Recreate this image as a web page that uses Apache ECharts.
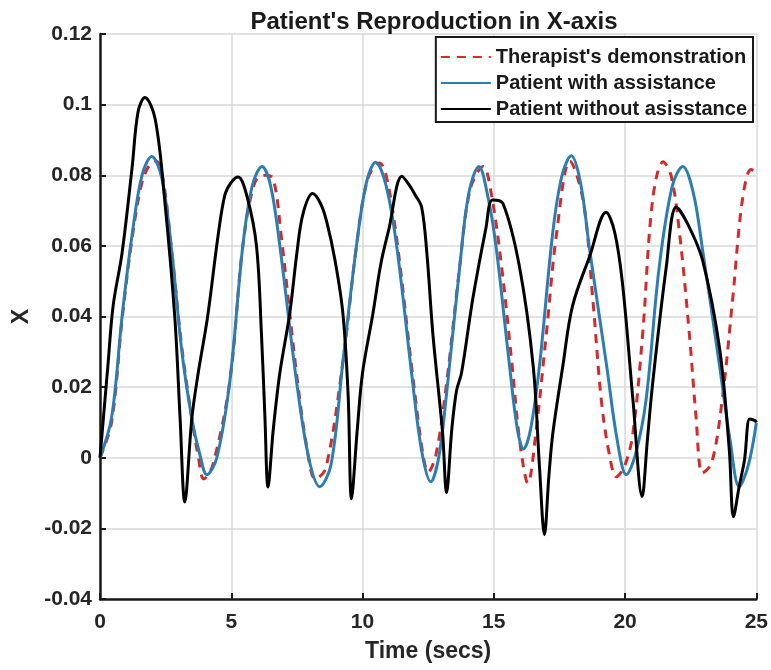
<!DOCTYPE html>
<html>
<head>
<meta charset="utf-8">
<script src="https://cdn.jsdelivr.net/npm/echarts@6/dist/echarts.min.js"></script>
<style>html,body{margin:0;padding:0;background:#fff}#c{width:771px;height:670px}</style>
</head>
<body>
<div id="c"></div>
<script>
var seriesNames = ["Therapist's demonstration", "Patient with assistance", "Patient without asisstance"];
var xTickLabels = ['0','5','10','15','20','25'];
var yTickLabels = ['-0.04','-0.02','0','0.02','0.04','0.06','0.08','0.1','0.12'];

var tRed = [0,0.44,0.84,1.22,1.6,1.9,2.15,2.4,2.74,3.12,3.5,3.75,3.95,4.3,4.95,5.44,5.9,6.3,6.6,6.9,7.5,7.9,8.2,8.6,9.25,9.77,10.2,10.65,10.9,11.3,11.9,12.3,12.5,12.8,13.2,13.7,14.1,14.6,14.9,15.3,15.7,16.0,16.3,16.6,17.0,17.4,17.9,18.4,18.77,19.1,19.4,19.67,20.0,20.3,20.67,21.05,21.45,21.75,22.07,22.45,22.7,22.95,23.3,23.7,24.1,24.47,24.8,25];
var vRed = [0,0.010,0.039,0.062,0.078,0.083,0.084,0.079,0.058,0.031,0.011,0.000,-0.006,-0.002,0.022,0.060,0.078,0.080,0.079,0.063,0.023,0.002,-0.006,-0.003,0.027,0.060,0.079,0.0835,0.080,0.062,0.024,0.001,-0.004,0.001,0.021,0.054,0.076,0.0825,0.075,0.054,0.026,0.004,-0.0072,0.007,0.035,0.064,0.084,0.073,0.045,0.016,0.001,-0.0054,-0.002,0.007,0.035,0.073,0.0838,0.080,0.064,0.035,0.012,-0.0043,-0.0015,0.0164,0.045,0.073,0.0816,0.081];

var tBlue = [0,0.44,0.84,1.22,1.6,1.97,2.36,2.74,3.12,3.5,3.8,4.07,4.45,4.95,5.44,5.8,6.17,6.5,6.85,7.48,7.95,8.37,8.8,9.25,9.77,10.15,10.5,10.9,11.3,11.9,12.25,12.6,12.9,13.2,13.7,14.05,14.43,14.8,15.1,15.6,15.9,16.13,16.4,16.74,17.25,17.6,17.95,18.3,18.65,19.3,19.7,20.05,20.4,20.8,21.3,21.8,22.2,22.6,22.95,23.6,24.0,24.35,24.7,25];
var vBlue = [0,0.0113,0.040,0.063,0.080,0.0853,0.079,0.058,0.030,0.011,0.001,-0.0048,0.0,0.022,0.060,0.077,0.0825,0.077,0.060,0.022,0.000,-0.0082,-0.002,0.027,0.060,0.078,0.0837,0.077,0.060,0.022,0.002,-0.0068,0.0,0.018,0.054,0.075,0.0825,0.073,0.059,0.026,0.008,0.0025,0.008,0.026,0.064,0.080,0.0855,0.078,0.059,0.026,0.005,-0.0048,0.001,0.0164,0.054,0.077,0.0825,0.075,0.059,0.026,0.005,-0.0082,-0.002,0.0099];

var tBlack = [0,0.3,0.5,0.84,1.22,1.45,1.71,2.1,2.47,2.85,3.05,3.23,3.5,3.73,4.1,4.5,4.76,5.0,5.26,5.6,5.96,6.15,6.28,6.4,6.6,6.85,7.23,7.5,7.73,8.1,8.4,8.63,8.95,9.25,9.45,9.58,9.8,10.0,10.4,10.7,11.0,11.5,11.8,12.0,12.25,12.45,12.68,13.05,13.2,13.4,13.58,13.77,14.2,14.7,14.95,15.35,15.98,16.5,16.74,16.93,17.1,17.25,17.63,18.0,18.65,19.28,19.6,19.9,20.3,20.65,20.85,21.05,21.57,21.95,22.4,22.95,23.6,23.97,24.13,24.35,24.55,24.75,24.95,25];
var vBlack = [0,0.026,0.043,0.058,0.082,0.098,0.102,0.096,0.0725,0.0397,0.0113,-0.0125,0.0113,0.0235,0.040,0.063,0.0745,0.078,0.0795,0.074,0.060,0.035,0.012,-0.0083,0.008,0.024,0.041,0.058,0.069,0.0748,0.072,0.067,0.056,0.041,0.018,-0.0116,0.008,0.024,0.041,0.055,0.0646,0.0797,0.077,0.0745,0.071,0.058,0.035,0.007,-0.0099,0.008,0.019,0.024,0.045,0.065,0.073,0.072,0.054,0.026,-0.0025,-0.0218,-0.005,0.007,0.026,0.043,0.057,0.0695,0.064,0.0495,0.0164,-0.011,0.005,0.021,0.054,0.071,0.066,0.056,0.031,0.0023,-0.0167,-0.008,-0.0006,0.011,0.0105,0.010];

function pairs(t, v){ return t.map(function(x,i){ return [x, v[i]]; }); }

var font = 'Liberation Sans, Arial, sans-serif';
var txt = '#262626';
var chart = echarts.init(document.getElementById('c'), null, {renderer:'canvas'});
chart.setOption({
  animation:false,
  backgroundColor:'#fff',
  title:{text:"Patient's Reproduction in X-axis", left:429, top:5, textAlign:'center',
    textStyle:{fontFamily:font, fontWeight:'bold', fontSize:24, color:'#1a1a1a'}},
  grid:{left:100, right:14, top:34, bottom:71, containLabel:false},
  legend:{
    orient:'vertical', right:18, top:37, itemWidth:50, itemHeight:14, itemGap:6,
    padding:[10,6,3,4], borderColor:'#1a1a1a', borderWidth:2, backgroundColor:'#fff',
    itemStyle:{opacity:0},
    textStyle:{fontFamily:font, fontWeight:'bold', fontSize:20, lineHeight:20, color:'#1a1a1a'},
    data:seriesNames
  },
  xAxis:{type:'value', min:0, max:25, interval:5,
    name:'Time (secs)', nameLocation:'middle', nameGap:41,
    nameTextStyle:{fontFamily:font, fontWeight:'bold', fontSize:23, color:txt},
    axisLine:{show:true, onZero:false, lineStyle:{color:'#1a1a1a', width:2.5}},
    axisTick:{show:true, inside:true, length:6, lineStyle:{color:'#1a1a1a', width:2}},
    axisLabel:{fontFamily:font, fontWeight:'bold', fontSize:21, color:txt, margin:13,
      formatter:function(v,i){ return xTickLabels[i]; }},
    splitLine:{show:true, lineStyle:{color:'#d8d8d8', width:1.5}}
  },
  yAxis:{type:'value', min:-0.04, max:0.12, interval:0.02,
    name:'X', nameLocation:'middle', nameGap:66, nameRotate:90,
    nameTextStyle:{fontFamily:font, fontWeight:'bold', fontSize:23, color:txt},
    axisLine:{show:true, onZero:false, lineStyle:{color:'#1a1a1a', width:2.5}},
    axisTick:{show:true, inside:true, length:6, lineStyle:{color:'#1a1a1a', width:2}},
    axisLabel:{fontFamily:font, fontWeight:'bold', fontSize:21, color:txt, margin:8,
      formatter:function(v,i){ return yTickLabels[i]; }},
    splitLine:{show:true, lineStyle:{color:'#d8d8d8', width:1.5}}
  },
  series:[
    {name:seriesNames[0], type:'line', data:pairs(tRed,vRed), smooth:0.35, symbol:'none', z:3,
      lineStyle:{color:'#d42a2a', width:3, type:[9,7]}, itemStyle:{color:'#d42a2a'}},
    {name:seriesNames[1], type:'line', data:pairs(tBlue,vBlue), smooth:0.35, symbol:'none', z:4,
      lineStyle:{color:'#2b7db5', width:3}, itemStyle:{color:'#2b7db5'}},
    {name:seriesNames[2], type:'line', data:pairs(tBlack,vBlack), smooth:0.35, symbol:'none', z:5,
      lineStyle:{color:'#000000', width:3}, itemStyle:{color:'#000000'}}
  ]
});
</script>
</body>
</html>
